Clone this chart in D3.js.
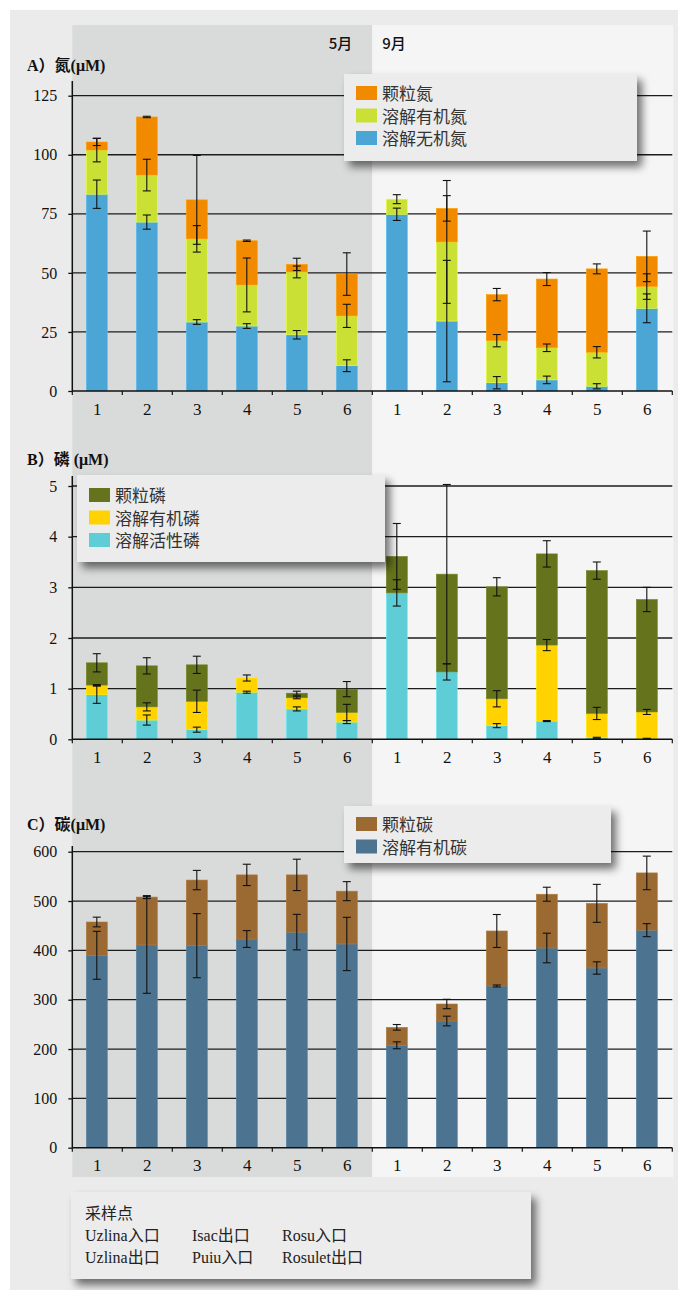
<!DOCTYPE html>
<html><head><meta charset="utf-8">
<script src="https://cdn.jsdelivr.net/npm/d3@7"></script>
<style>body{margin:0;background:#fff} svg{display:block}</style>
</head><body>
<svg id="c" width="678" height="1290"></svg>
<script>
// ---------- data ----------
const keys = ["5-1","5-2","5-3","5-4","5-5","5-6","9-1","9-2","9-3","9-4","9-5","9-6"];
const siteLabels = ["1","2","3","4","5","6","1","2","3","4","5","6"];
const monthLabels = ["5月","9月"];
const stationNames = ["Uzlina入口","Uzlina出口","Isac出口","Puiu入口","Rosu入口","Rosulet出口"];

// A) nitrogen (µM) – segment values, bottom to top
const nTicks = [0,25,50,75,100,125];
const dinVals = [83.3,71.5,29.2,27.5,23.8,10.7, 74.8,29.6,3.5,4.7,2.0,35.0];
const dinErr  = [6,3,1,1,1.8,2.5, 2.6,25.7,2.6,1.6,1.1,6.1];
const donVals = [18.7,19.9,35.2,17.4,26.6,21.1, 6.4,33.5,17.8,13.6,14.4,9.2];
const donErr  = [5,6.7,5.6,11.4,2.5,4.9, 1.9,26,2.6,1.6,2.4,5.4];
const pnVals  = [3.4,24.6,16.5,18.7,3.2,17.7, 0,14.2,19.5,29.1,35.3,12.8];
const pnErr   = [1.5,0.3,18.8,0.3,2.6,9, 0,5.4,2.6,2.75,2.1,10.7];

// B) phosphorus (µM)
const pTicks = [0,1,2,3,4,5];
const srpVals = [0.88,0.38,0.19,0.93,0.60,0.34, 2.89,1.33,0.27,0.36,0.03,0.01];
const srpErr  = [0.17,0.10,0.05,0.02,0.04,0.03, 0.26,0.16,0.04,0.01,0.01,0.01];
const dopVals = [0.19,0.26,0.56,0.28,0.22,0.19, 0,0,0.53,1.50,0.48,0.53];
const dopErr  = [0.01,0.08,0.22,0.06,0.02,0.16, 0,0,0.16,0.11,0.12,0.05];
const ppVals  = [0.44,0.81,0.72,0,0.09,0.46, 0.72,1.93,2.21,1.80,2.82,2.22];
const ppErr   = [0.18,0.16,0.17,0,0.04,0.15, 0.65,1.77,0.18,0.26,0.17,0.24];

// C) carbon (µM)
const cTicks = [0,100,200,300,400,500,600];
const docVals = [390,411,409.5,423,437,413, 207.6,256.8,327.8,404.8,364.3,441];
const docErr  = [48.6,98,65,17,36,54, 7,9.8,2,30,12.5,13.2];
const pocVals = [67.5,97,133,130,116,107, 36.4,34.5,111.5,109,131,116];
const pocErr  = [9.8,3,19.6,21.6,31.8,19.3, 5.7,9.5,33.4,14.2,38.5,34];

// ---------- drawing ----------
const svg = d3.select("#c");
const defs = svg.append("defs");
const f = defs.append("filter").attr("id","sh").attr("x","-10%").attr("y","-20%").attr("width","130%").attr("height","160%");
f.append("feGaussianBlur").attr("in","SourceAlpha").attr("stdDeviation",4).attr("result","b");
f.append("feOffset").attr("in","b").attr("dx",5).attr("dy",6).attr("result","o");
f.append("feComponentTransfer").attr("in","o").attr("result","o2")
  .append("feFuncA").attr("type","linear").attr("slope",0.55);
const m = f.append("feMerge");
m.append("feMergeNode").attr("in","o2");
m.append("feMergeNode").attr("in","SourceGraphic");

const SERIF = "'Liberation Serif','Noto Sans CJK SC',serif";
const CJK = "'Noto Sans CJK SC','Liberation Serif',sans-serif";

// backgrounds
svg.append("rect").attr("x",10).attr("y",10).attr("width",668).attr("height",1280).attr("fill","#ebebeb");
const X0 = 72.3, X1 = 672.3;
const x = d3.scaleBand().domain(keys).range([X0, X1]).padding(0);
const bw = x.bandwidth();
svg.append("rect").attr("x",x("5-1")).attr("y",25).attr("width",x("9-1")-x("5-1")).attr("height",1152).attr("fill","#d9dbdb");
svg.append("rect").attr("x",x("9-1")).attr("y",25).attr("width",X1+1-x("9-1")).attr("height",1152).attr("fill","#f5f5f5");

// month labels
svg.append("text").attr("x",x("9-1")-20).attr("y",49).attr("text-anchor","end")
  .attr("font-family",CJK).attr("font-size",15).attr("font-weight",500).attr("fill","#111").text(monthLabels[0]);
svg.append("text").attr("x",x("9-1")+10).attr("y",49)
  .attr("font-family",CJK).attr("font-size",15).attr("font-weight",500).attr("fill","#111").text(monthLabels[1]);

function panel(cfg){
  const y = d3.scaleLinear().domain([0, cfg.ticks[cfg.ticks.length-1]]).range([cfg.yb, cfg.yt]);
  const g = svg.append("g");
  // title
  g.append("text").attr("x",27).attr("y",cfg.titleY).attr("font-family",SERIF)
    .attr("font-size",16).attr("font-weight","bold").attr("fill","#111").text(cfg.title);
  // gridlines
  g.append("g").selectAll("line").data(cfg.ticks.slice(1)).join("line")
    .attr("x1",X0).attr("x2",X1).attr("y1",d=>y(d)).attr("y2",d=>y(d))
    .attr("stroke","#1c1c1c").attr("stroke-width",1.3);
  // stacked bars
  const n = keys.length;
  const cum = new Array(n).fill(0);
  const errs = [];
  cfg.series.forEach(s => {
    const rows = keys.map((k,i)=>({k, lo:cum[i], hi:cum[i]+s.values[i], e:s.err[i]}));
    rows.forEach((r,i)=>{ cum[i] = r.hi; });
    g.append("g").selectAll("rect").data(rows.filter(r=>r.hi>r.lo)).join("rect")
      .attr("x",r=>x(r.k)+bw*0.28).attr("width",bw*0.42)
      .attr("y",r=>y(r.hi)).attr("height",r=>y(r.lo)-y(r.hi))
      .attr("fill",s.color).attr("stroke",d3.color(s.color).brighter(0.4)).attr("stroke-width",0.6);
    rows.forEach(r=>{ if(r.e>0) errs.push(r); });
  });
  // error bars
  const eg = g.append("g").attr("stroke","#111").attr("stroke-width",1.1);
  errs.forEach(r=>{
    const cx = x(r.k)+bw*0.49;
    eg.append("line").attr("x1",cx).attr("x2",cx).attr("y1",y(r.hi+r.e)).attr("y2",y(r.hi-r.e));
    [r.hi+r.e, r.hi-r.e].forEach(v=>eg.append("line").attr("x1",cx-4).attr("x2",cx+4).attr("y1",y(v)).attr("y2",y(v)));
  });
  // y axis
  const ya = g.append("g").attr("transform",`translate(${X0},0)`)
    .call(d3.axisLeft(y).tickValues(cfg.ticks).tickFormat(d=>String(d)).tickSize(4).tickPadding(11));
  ya.select(".domain").remove();
  ya.selectAll("line").attr("stroke","#111").attr("stroke-width",1.3);
  ya.selectAll("text").attr("font-family",SERIF).attr("font-size",16).attr("fill","#111");
  g.append("line").attr("x1",X0).attr("x2",X0).attr("y1",cfg.axisTop).attr("y2",cfg.yb)
    .attr("stroke","#111").attr("stroke-width",1.5);
  // x axis
  g.append("line").attr("x1",X0).attr("x2",X1).attr("y1",cfg.yb).attr("y2",cfg.yb)
    .attr("stroke","#111").attr("stroke-width",1.6);
  const edges = keys.map(k=>x(k)).concat([X1]);
  g.append("g").selectAll("line").data(edges).join("line")
    .attr("x1",d=>d).attr("x2",d=>d).attr("y1",cfg.yb).attr("y2",cfg.yb+4)
    .attr("stroke","#111").attr("stroke-width",1.2);
  const xa = g.append("g").attr("transform",`translate(0,${cfg.yb})`)
    .call(d3.axisBottom(x).tickSize(0).tickPadding(11.5).tickFormat((d,i)=>siteLabels[i]));
  xa.select(".domain").remove();
  xa.selectAll("text").attr("font-family",SERIF).attr("font-size",17).attr("fill","#111");
  // legend
  const L = cfg.legend;
  const lg = g.append("g");
  lg.append("rect").attr("x",L.x).attr("y",L.y).attr("width",L.w).attr("height",L.h)
    .attr("fill","#ececec").attr("filter","url(#sh)");
  const items = cfg.series.slice().reverse();
  items.forEach((s,i)=>{
    const ty = L.y + L.pad + i*22.5;
    lg.append("rect").attr("x",L.x+12).attr("y",ty).attr("width",21).attr("height",14).attr("fill",s.color);
    lg.append("text").attr("x",L.x+38).attr("y",ty+14).attr("font-family",CJK).attr("font-size",17)
      .attr("fill","#333").text(s.name);
  });
}

panel({
  title:"A）氮(μM)", titleY:71, ticks:nTicks, yb:391, yt:95.7, axisTop:81,
  series:[
    {name:"溶解无机氮", color:"#4ba6d6", values:dinVals, err:dinErr},
    {name:"溶解有机氮", color:"#cbe035", values:donVals, err:donErr},
    {name:"颗粒氮",   color:"#f28a00", values:pnVals,  err:pnErr}
  ],
  legend:{x:344, y:74, w:293, h:87, pad:12}
});
panel({
  title:"B）磷 (μM)", titleY:465, ticks:pTicks, yb:739.3, yt:486, axisTop:476,
  series:[
    {name:"溶解活性磷", color:"#5fcdd6", values:srpVals, err:srpErr},
    {name:"溶解有机磷", color:"#ffd200", values:dopVals, err:dopErr},
    {name:"颗粒磷",   color:"#65731c", values:ppVals,  err:ppErr}
  ],
  legend:{x:77, y:475, w:308, h:87, pad:13}
});
panel({
  title:"C）碳(μM)", titleY:830, ticks:cTicks, yb:1147.7, yt:851.7, axisTop:846,
  series:[
    {name:"溶解有机碳", color:"#4c7490", values:docVals, err:docErr},
    {name:"颗粒碳",   color:"#9a6a32", values:pocVals, err:pocErr}
  ],
  legend:{x:344, y:806, w:267, h:57, pad:11}
});

// station legend
const sg = svg.append("g");
sg.append("rect").attr("x",71).attr("y",1192).attr("width",460).attr("height",87)
  .attr("fill","#ececec").attr("filter","url(#sh)");
sg.append("text").attr("x",85).attr("y",1219).attr("font-family",SERIF).attr("font-size",16)
  .attr("fill","#222").text("采样点");
const colX = [85, 192, 282];
stationNames.forEach((s,i)=>{
  const col = Math.floor(i/2), row = i%2;
  sg.append("text").attr("x",colX[col]).attr("y",1241+row*22).attr("font-family",SERIF)
    .attr("font-size",16).attr("fill","#222").text(s);
});
</script>
</body></html>
